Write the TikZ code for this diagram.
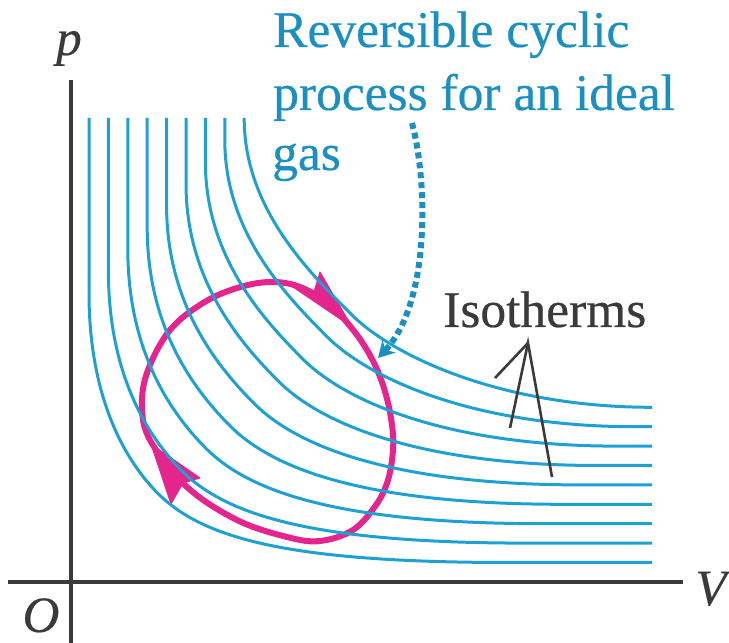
\documentclass[tikz,border=0pt]{standalone}
\usepackage{fontspec}
\IfFontExistsTF{LiberationSerif-Regular.ttf}
 {\setmainfont{LiberationSerif-Regular.ttf}[ItalicFont=LiberationSerif-Italic.ttf,FakeBold=0.4]}
 {\setmainfont{Liberation Serif}[FakeBold=0.4]}
\usetikzlibrary{arrows.meta}
\definecolor{isoblue}{HTML}{1EA0D2}
\definecolor{txtblue}{HTML}{1A8FC2}
\definecolor{loopmag}{HTML}{E3258D}
\definecolor{axisgray}{HTML}{3A3A3A}
\begin{document}
\begin{tikzpicture}[x=1pt,y=1pt,
  isoline/.style={isoblue,line width=3pt},
  axisline/.style={axisgray,line width=3.2pt},
  pointer/.style={axisgray,line width=2.6pt},
  looppath/.style={loopmag,line width=6pt},
  headfill/.style={fill=loopmag,draw=loopmag,line width=1pt,line join=round},
  dotarrow/.style={txtblue,line width=6pt,dash pattern=on 6pt off 4pt,
     -{Stealth[length=16pt,width=18pt,inset=5pt]}},
  lbl/.style={inner sep=0pt,font=\fontsize{51.5}{60}\selectfont},
  bluetext/.style={lbl,anchor=base west,text=txtblue},
  darktext/.style={lbl,anchor=base west,text=axisgray},
  axislabel/.style={lbl,anchor=base,text=axisgray,font=\fontsize{51}{60}\selectfont\itshape}
]
\useasboundingbox (0,0) rectangle (729,643);

% axes
\coordinate (origin) at (71,61);
\coordinate (ptop) at (71,563);
\coordinate (pbot) at (71,0);
\coordinate (vleft) at (8,61);
\coordinate (vright) at (683,61);
\draw[axisline] (pbot) -- (ptop);
\draw[axisline] (vleft) -- (vright);
\node[axislabel] (plabel) at (69,588) {p};
\node[axislabel] (olabel) at (41,11) {O};
\node[axislabel] (vlabel) at (711,38) {V};

% cyclic process
\draw[looppath] plot[smooth cycle, tension=0.6] coordinates {
 (270,361) (300,356) (330,338) (357,308) (375,278) (386,248) (392,218)
 (393,193) (388,163) (376,138) (353,113) (320,102) (287,106) (237,123)
 (187,156) (150,203) (142,238) (148,273) (170,313) (203,340) (237,355)};
% arrowheads on the cycle
\coordinate (toptip) at (352,316);
\coordinate (topbarbA) at (320,371);
\coordinate (topnotch) at (314,351);
\coordinate (topbarbB) at (290,358);
\fill[headfill] (toptip) -- (topbarbA) -- (topnotch) -- (topbarbB) -- cycle;
\coordinate (lefttip) at (151,199);
\coordinate (leftbarbA) at (171,139);
\coordinate (leftnotch) at (183,160);
\coordinate (leftbarbB) at (200,165);
\fill[headfill] (lefttip) -- (leftbarbA) -- (leftnotch) -- (leftbarbB) -- cycle;

% isotherms
\foreach \i in {0,...,8}{
  \pgfmathsetmacro\tt{\i/8}
  \pgfmathsetmacro\bx{89+19.4*\i}
  \pgfmathsetmacro\by{80.5+19.4*\i}
  \pgfmathsetmacro\vs{270+19*\tt}
  \pgfmathsetmacro\ka{110-20*\tt}
  \pgfmathsetmacro\du{69+38*\tt}
  \pgfmathsetmacro\dv{69+24*\tt}
  \pgfmathsetmacro\kb{30+12.4*\tt}
  \pgfmathsetmacro\kc{45-2.6*\tt}
  \pgfmathsetmacro\cf{200+58*\tt}
  \pgfmathsetmacro\ue{420-12*\tt}
  \draw[isoline] (\bx,525) -- (\bx,\by+\vs)
     .. controls (\bx,\by+\vs-\ka) and (\bx+\du-\kb,\by+\dv+\kb) .. (\bx+\du,\by+\dv)
     .. controls (\bx+\du+\kc,\by+\dv-\kc) and (\bx+\cf,\by) .. (\bx+\ue,\by)
     -- (652,\by);
}

% labels
\node[bluetext] (title1) at (273,596) {Reversible cyclic};
\node[bluetext] (title2) at (273,533) {process for an ideal};
\node[bluetext] (title3) at (272,473) {gas};
\node[darktext] (isolabel) at (443,316) {Isotherms};

% dotted pointer
\coordinate (dstart) at (412,520);
\coordinate (dend) at (378,285);
\draw[dotarrow] (dstart) .. controls (428,460) and (430,340) .. (dend);

% isotherm pointer
\coordinate (apex) at (528,300);
\coordinate (leg1) at (510,215);
\coordinate (leg2) at (552,166);
\coordinate (barb) at (495,265);
\draw[pointer] (leg1) -- (apex) -- (leg2);
\draw[pointer] (apex) -- (barb);
\end{tikzpicture}
\end{document}
